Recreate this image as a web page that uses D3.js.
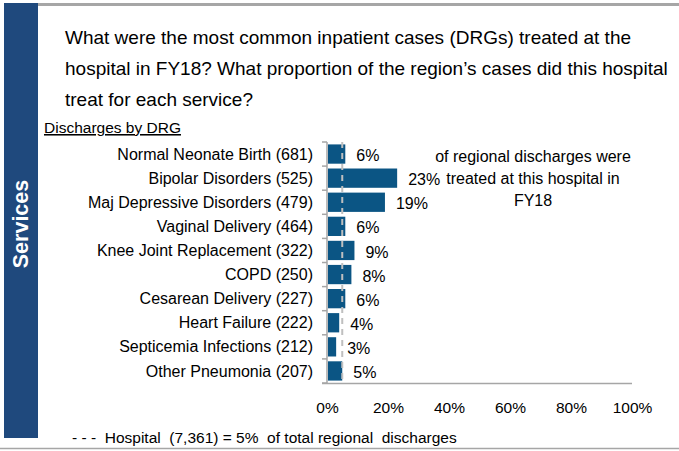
<!DOCTYPE html>
<html>
<head>
<meta charset="utf-8">
<script src="https://cdn.jsdelivr.net/npm/d3@7"></script>
<style>
  body { margin: 0; background: #fff; }
  svg { display: block; font-family: "Liberation Sans", Arial, sans-serif; }
</style>
</head>
<body>
<svg id="graphique" width="679" height="451"></svg>
<script>
// donnees du graphique
var categories = ["Normal Neonate Birth", "Bipolar Disorders", "Maj Depressive Disorders",
  "Vaginal Delivery", "Knee Joint Replacement", "COPD", "Cesarean Delivery",
  "Heart Failure", "Septicemia Infections", "Other Pneumonia"];
var discharges = [681, 525, 479, 464, 322, 250, 227, 222, 212, 207];
var regionalShare = [0.06, 0.23, 0.19, 0.06, 0.09, 0.08, 0.06, 0.04, 0.03, 0.05];
var hospitalShare = 0.05;
var hospitalTotal = 7361;
var xTicks = [0, 0.2, 0.4, 0.6, 0.8, 1];
var titleLines = [
  "What were the most common inpatient cases (DRGs) treated at the",
  "hospital in FY18? What proportion of the region\u2019s cases did this hospital",
  "treat for each service?"
];
var noteLines = ["of regional discharges were", "treated at this hospital in", "FY18"];

var svg = d3.select("#graphique");
var WIDTH = 679, HEIGHT = 451;
var BAR_COLOR = "#0B5584";
var AXIS_COLOR = "#A6A6A6";

svg.append("rect").attr("width", WIDTH).attr("height", HEIGHT).attr("fill", "#fff");

//// cadre de la diapo
svg.append("rect").attr("x", 4).attr("y", 3).attr("width", 34).attr("height", 435).attr("fill", "#1F497D");
svg.append("rect").attr("x", 38).attr("y", 3).attr("width", WIDTH - 38).attr("height", 3).attr("fill", AXIS_COLOR);
svg.append("line").attr("x1", 0).attr("x2", WIDTH).attr("y1", 448.5).attr("y2", 448.5)
  .attr("stroke", AXIS_COLOR).attr("stroke-width", 1.5);

svg.append("text")
  .attr("transform", "translate(28,224) rotate(-90)")
  .attr("text-anchor", "middle")
  .attr("fill", "#fff").attr("font-weight", "bold").attr("font-size", 21.5)
  .text("Services");

//// titre
svg.append("g").selectAll("text").data(titleLines).join("text")
  .attr("x", 65).attr("y", function(d, i) { return 44 + i * 31; })
  .attr("font-size", 19).attr("fill", "#000")
  .text(function(d) { return d; });

svg.append("text").attr("x", 44).attr("y", 133).attr("font-size", 15.5)
  .attr("text-decoration", "underline").text("Discharges by DRG");

//// echelles
var xScale = d3.scaleLinear().domain([0, 1]).range([327, 632]);
var yScale = d3.scaleBand().domain(categories).range([142, 383]).paddingInner(0.2).paddingOuter(0.1);
var step = yScale.step();

// axe x
var xAxis = d3.axisBottom(xScale).tickValues(xTicks).tickSize(0).tickPadding(19)
  .tickFormat(d3.format(".0%"));
var gx = svg.append("g").attr("transform", "translate(0,383)").call(xAxis);
gx.select(".domain").remove();
gx.selectAll("text").attr("font-size", 15.5).attr("font-family", null).attr("fill", "#000");
svg.append("line").attr("x1", 322).attr("x2", 632).attr("y1", 383.5).attr("y2", 383.5)
  .attr("stroke", AXIS_COLOR).attr("stroke-width", 1.5);

// axe y avec graduations entre les categories
svg.append("line").attr("x1", 327).attr("x2", 327).attr("y1", 142).attr("y2", 383)
  .attr("stroke", AXIS_COLOR).attr("stroke-width", 1.5);
svg.append("g").selectAll("line").data(d3.range(categories.length + 1)).join("line")
  .attr("x1", 322).attr("x2", 327)
  .attr("y1", function(i) { return 142 + i * step; })
  .attr("y2", function(i) { return 142 + i * step; })
  .attr("stroke", AXIS_COLOR).attr("stroke-width", 1.5);

//// barres
svg.append("g").selectAll("rect").data(categories).join("rect")
  .attr("x", xScale(0) + 1)
  .attr("y", function(d) { return yScale(d); })
  .attr("width", function(d, i) { return xScale(regionalShare[i]) - xScale(0) - 1; })
  .attr("height", yScale.bandwidth())
  .attr("fill", BAR_COLOR);

// etiquettes des categories
svg.append("g").selectAll("text").data(categories).join("text")
  .attr("x", 313)
  .attr("y", function(d) { return yScale(d) + yScale.bandwidth() / 2; })
  .attr("dy", "0.35em").attr("text-anchor", "end").attr("font-size", 16)
  .text(function(d, i) { return d + " (" + discharges[i] + ")"; });

// valeurs
svg.append("g").selectAll("text").data(categories).join("text")
  .attr("x", function(d, i) { return xScale(regionalShare[i]) + 11; })
  .attr("y", function(d) { return yScale(d) + yScale.bandwidth() / 2 + 1.5; })
  .attr("dy", "0.35em").attr("font-size", 16)
  .text(function(d, i) { return d3.format(".0%")(regionalShare[i]); });

// ligne de l'hopital
svg.append("line")
  .attr("x1", xScale(hospitalShare)).attr("x2", xScale(hospitalShare))
  .attr("y1", 142).attr("y2", 383)
  .attr("stroke", "#BFBFBF").attr("stroke-width", 2).attr("stroke-dasharray", "6,5");

//// note
svg.append("g").selectAll("text").data(noteLines).join("text")
  .attr("x", 533).attr("y", function(d, i) { return 162 + i * 22; })
  .attr("text-anchor", "middle").attr("font-size", 16)
  .text(function(d) { return d; });

//// legende
svg.append("text").attr("x", 72).attr("y", 443).attr("font-size", 15.5)
  .attr("xml:space", "preserve").style("white-space", "pre")
  .text("- - -  Hospital  (" + d3.format(",")(hospitalTotal) + ") = " + d3.format(".0%")(hospitalShare) + "  of total regional  discharges");
</script>
</body>
</html>
